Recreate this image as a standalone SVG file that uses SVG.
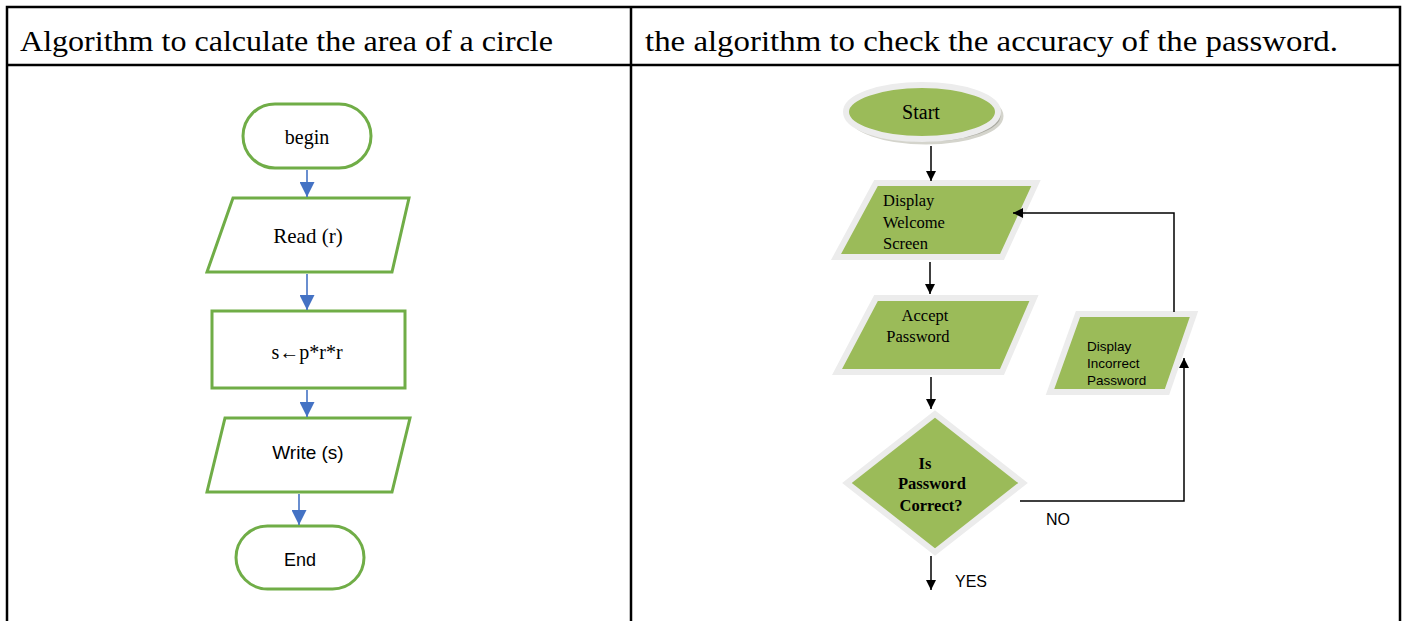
<svg xmlns="http://www.w3.org/2000/svg" width="1405" height="621" viewBox="0 0 1405 621">
  <style>
    .grid { stroke: #000; stroke-width: 2.5; fill: none; }
    .head { font-family: "Liberation Serif", "Times New Roman", serif; font-size: 30px; fill: #000; }
    .box { fill: #fff; stroke: #70AD47; stroke-width: 3; }
    .serif { font-family: "Liberation Serif", "Times New Roman", serif; fill: #000; }
    .sans { font-family: "Liberation Sans", Arial, sans-serif; fill: #000; }
    .blue { stroke: #4472C4; stroke-width: 1.6; fill: none; }
    .blk { stroke: #000; stroke-width: 1.5; fill: none; }
    .leaf { fill: #9BBB59; stroke: #ececec; stroke-width: 6; stroke-linejoin: miter; }
  </style>
  <defs>
    <marker id="arrBlue" viewBox="0 0 10 10" refX="10" refY="5" markerWidth="15" markerHeight="15" markerUnits="userSpaceOnUse" orient="auto">
      <path d="M0,0 L10,5 L0,10 z" fill="#4472C4"/>
    </marker>
    <marker id="arrBlack" viewBox="0 0 10 10" refX="10" refY="5" markerWidth="12" markerHeight="10" markerUnits="userSpaceOnUse" orient="auto">
      <path d="M0,0 L10,5 L0,10 z" fill="#000"/>
    </marker>
  </defs>

  <rect width="1405" height="621" fill="#fff"/>

  <!-- table frame -->
  <g id="table">
    <path class="grid" d="M7,621 V7 H1400 V621 M7,65 H1400 M631,7 V621"/>
    <text class="head" x="20" y="51" textLength="533" lengthAdjust="spacingAndGlyphs">Algorithm to calculate the area of a circle</text>
    <text class="head" x="645" y="51" textLength="693" lengthAdjust="spacingAndGlyphs">the algorithm to check the accuracy of the password.</text>
  </g>

  <!-- circle-area flowchart -->
  <g id="begin">
    <rect class="box" x="243" y="104" width="128" height="64" rx="32"/>
    <text class="serif" x="307" y="144" font-size="20" text-anchor="middle">begin</text>
  </g>
  <g id="read">
    <polygon class="box" points="233,198 409,198 392,272 207,272"/>
    <text class="serif" x="308" y="243" font-size="21" text-anchor="middle">Read (r)</text>
  </g>
  <g id="compute">
    <rect class="box" x="212" y="311" width="193" height="77"/>
    <text class="serif" x="307" y="359" font-size="20" text-anchor="middle">s←p*r*r</text>
  </g>
  <g id="write">
    <polygon class="box" points="225,418 410,418 392,492 207,492"/>
    <text class="sans" x="308" y="459" font-size="19" text-anchor="middle">Write (s)</text>
  </g>
  <g id="end">
    <rect class="box" x="236" y="526" width="128" height="63" rx="31.5"/>
    <text class="sans" x="300" y="566" font-size="18" text-anchor="middle">End</text>
  </g>

  <!-- password flowchart -->
  <g id="start">
    <ellipse cx="926" cy="116" rx="76" ry="27" fill="#a9a9a0" stroke="#d4d4cc" stroke-width="3"/>
    <ellipse class="leaf" cx="922" cy="112" rx="76" ry="27" stroke-width="3"/>
    <text class="serif" x="921" y="119" font-size="20" text-anchor="middle">Start</text>
  </g>
  <g id="welcome">
    <polygon class="leaf" points="876,183 1036,183 1002,257 836,257"/>
    <text class="serif" font-size="16.5">
      <tspan x="883" y="206">Display</tspan>
      <tspan x="883" y="228">Welcome</tspan>
      <tspan x="883" y="249">Screen</tspan>
    </text>
  </g>
  <g id="accept">
    <polygon class="leaf" points="876,298 1034,298 1002,372 837,372"/>
    <text class="serif" font-size="16.5" text-anchor="middle">
      <tspan x="927" y="321">Accept</tspan>
      <tspan x="918" y="342">Password</tspan>
    </text>
  </g>
  <g id="check">
    <polygon class="leaf" points="935,414 1023,483 935,552 847,483"/>
    <text class="serif" font-size="16.5" font-weight="bold" text-anchor="middle">
      <tspan x="927" y="469">Is</tspan>
      <tspan x="934" y="489">Password</tspan>
      <tspan x="931" y="511">Correct?</tspan>
    </text>
  </g>
  <g id="incorrect">
    <polygon class="leaf" points="1078,314 1194,314 1167,392 1050,392"/>
    <text class="sans" font-size="13.5">
      <tspan x="1087" y="351">Display</tspan>
      <tspan x="1087" y="368">Incorrect</tspan>
      <tspan x="1087" y="385">Password</tspan>
    </text>
  </g>

  <!-- connectors -->
  <g id="connectors">
    <!-- circle-area flow -->
    <line class="blue" x1="307" y1="170" x2="307" y2="197" marker-end="url(#arrBlue)"/>
    <line class="blue" x1="307" y1="274" x2="307" y2="310" marker-end="url(#arrBlue)"/>
    <line class="blue" x1="307" y1="390" x2="307" y2="417" marker-end="url(#arrBlue)"/>
    <line class="blue" x1="299" y1="494" x2="299" y2="525" marker-end="url(#arrBlue)"/>
    <!-- password flow -->
    <line class="blk" x1="931" y1="146" x2="931" y2="181" marker-end="url(#arrBlack)"/>
    <line class="blk" x1="930" y1="262" x2="930" y2="294" marker-end="url(#arrBlack)"/>
    <line class="blk" x1="931" y1="377" x2="931" y2="409" marker-end="url(#arrBlack)"/>
    <line class="blk" x1="931" y1="556" x2="931" y2="590" marker-end="url(#arrBlack)"/>
    <polyline class="blk" points="1020,501 1184,501 1184,358" marker-end="url(#arrBlack)"/>
    <polyline class="blk" points="1174,312 1174,213 1013,213" marker-end="url(#arrBlack)"/>
    <text class="sans" x="1046" y="525" font-size="16">NO</text>
    <text class="sans" x="955" y="587" font-size="16">YES</text>
  </g>
</svg>
